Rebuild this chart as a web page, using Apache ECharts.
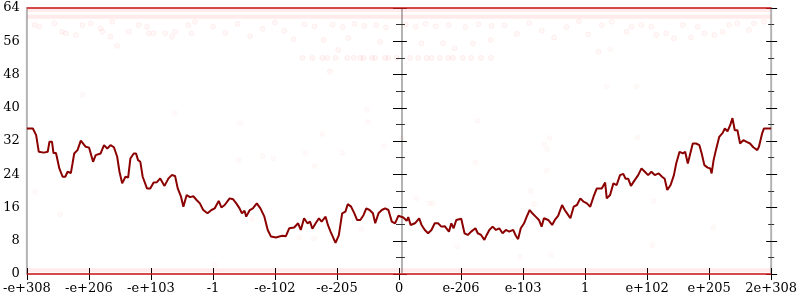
<!DOCTYPE html>
<html><head><meta charset="utf-8">
<script src="https://cdn.jsdelivr.net/npm/echarts@6/dist/echarts.min.js"></script>
<style>html,body{margin:0;padding:0;background:#fff}#c{width:800px;height:300px}</style>
</head><body><div id="c"></div>
<script>
// x axis: 13 evenly spaced tick positions, -6 .. 6
const xTickLabels = ['-e+308','-e+206','-e+103','-1','-e-102','-e-205','0','e-206','e-103','1','e+102','e+205','2e+308'];
const yMin = 0, yMax = 64, yStep = 8;

// main running line
const lineX = [-6.0,-5.904,-5.877,-5.851,-5.808,-5.776,-5.728,-5.664,-5.637,-5.595,-5.571,-5.531,-5.477,-5.424,-5.381,-5.344,-5.291,-5.264,-5.237,-5.184,-5.131,-5.104,-5.051,-4.997,-4.933,-4.891,-4.811,-4.757,-4.704,-4.651,-4.597,-4.544,-4.507,-4.464,-4.411,-4.368,-4.331,-4.277,-4.24,-4.208,-4.171,-4.133,-4.064,-4.011,-3.957,-3.904,-3.851,-3.781,-3.717,-3.664,-3.611,-3.568,-3.515,-3.477,-3.424,-3.371,-3.317,-3.264,-3.211,-3.157,-3.088,-3.024,-2.971,-2.907,-2.864,-2.811,-2.731,-2.677,-2.624,-2.571,-2.533,-2.491,-2.464,-2.411,-2.357,-2.293,-2.235,-2.171,-2.117,-2.064,-1.984,-1.931,-1.877,-1.824,-1.771,-1.691,-1.627,-1.584,-1.531,-1.477,-1.435,-1.397,-1.344,-1.291,-1.248,-1.184,-1.147,-1.104,-1.024,-0.971,-0.917,-0.864,-0.827,-0.773,-0.72,-0.677,-0.624,-0.571,-0.528,-0.475,-0.421,-0.384,-0.331,-0.277,-0.224,-0.171,-0.117,-0.064,-0.011,0.069,0.123,0.149,0.187,0.256,0.325,0.363,0.416,0.469,0.523,0.576,0.629,0.683,0.736,0.805,0.843,0.88,0.923,1.003,1.056,1.109,1.163,1.232,1.269,1.323,1.376,1.413,1.456,1.509,1.563,1.616,1.669,1.723,1.776,1.84,1.883,1.92,1.963,2.016,2.059,2.107,2.149,2.203,2.256,2.299,2.336,2.405,2.469,2.512,2.565,2.629,2.672,2.709,2.763,2.816,2.869,2.923,2.976,3.029,3.083,3.136,3.189,3.269,3.323,3.349,3.403,3.456,3.509,3.563,3.616,3.653,3.696,3.739,3.792,3.856,3.909,3.963,4.016,4.069,4.123,4.187,4.24,4.283,4.325,4.379,4.432,4.469,4.523,4.576,4.613,4.656,4.683,4.736,4.789,4.843,4.88,4.923,4.976,5.019,5.04,5.072,5.109,5.163,5.216,5.253,5.296,5.339,5.376,5.413,5.456,5.499,5.552,5.605,5.659,5.712,5.776,5.803,5.856,5.883,6.0];
const lineY = [35.0,35.0,34.6,33.4,29.4,29.8,29.2,29.4,31.8,31.8,29.1,29.1,25.4,23.4,23.4,24.6,24.3,26.6,29.0,29.8,32.1,32.2,30.6,30.4,27.0,28.6,29.0,31.0,30.2,31.0,30.5,28.2,24.6,21.8,23.4,23.2,27.8,29.0,29.0,27.4,27.0,23.4,20.6,20.6,22.0,22.1,23.0,21.2,23.0,23.8,23.6,20.6,18.6,16.2,19.0,18.5,18.7,17.8,17.0,15.4,14.6,15.4,15.8,17.6,16.0,16.6,18.2,18.0,17.0,15.8,14.6,15.2,13.8,15.3,15.8,17.0,15.8,13.8,10.6,9.0,8.8,9.0,9.2,9.1,11.0,11.2,12.2,10.6,13.4,12.2,12.6,10.9,12.2,13.4,12.6,13.8,11.8,10.2,7.5,9.3,14.6,15.0,16.8,16.2,14.6,13.0,13.0,14.2,15.8,15.4,14.6,12.2,14.6,15.4,15.8,15.4,12.6,12.2,14.0,13.6,12.8,13.7,11.8,12.2,13.4,11.8,10.6,9.8,10.6,12.2,12.2,11.4,11.5,10.2,12.2,11.0,13.0,13.3,9.8,9.4,10.2,11.0,9.8,9.4,8.2,9.4,10.6,11.4,10.6,11.0,9.8,10.6,10.2,10.6,9.2,8.4,11.0,12.2,13.8,15.4,14.6,13.8,13.0,11.4,13.4,13.0,11.8,13.0,14.0,16.6,15.4,14.6,13.4,16.2,16.6,18.2,17.4,17.0,16.2,18.6,20.6,20.6,22.0,18.2,19.0,21.8,21.4,23.8,24.1,22.9,22.9,21.2,22.4,23.8,25.4,24.6,23.8,24.6,23.8,24.2,23.4,22.9,20.2,21.4,23.8,26.6,29.4,29.0,29.4,26.6,28.2,31.4,31.4,31.0,29.0,26.2,25.6,25.4,24.2,27.4,29.8,33.0,33.9,35.0,34.3,35.8,37.5,34.6,34.6,31.4,32.2,31.8,31.4,30.5,29.8,30.6,33.9,35.0,35.0];

// dense bands of faint samples (drawn as continuous rows)
const solidRows = [0, 64];
const faintRows = [0.9, 63.5, 61.9];

// scattered faint samples [x, y]
const scatterPoints = [
 [-5.877,59.9],[-5.797,59.5],[-5.557,60.3],[-5.435,58.3],[-5.371,57.9],[-5.211,57.5],[-5.104,59.9],[-4.971,60.3],[-4.811,59.1],[-4.784,58.3],[-4.651,57.1],[-4.544,54.9],[-4.624,60.7],[-4.357,58.3],[-4.197,59.9],[-4.064,59.5],[-4.037,57.9],[-3.957,57.9],[-3.771,57.9],[-3.664,57.1],[-3.611,58.3],[-3.344,57.9],[-3.397,59.9],[-3.291,60.7],
 [-3.0,59.5],[-2.8,58.0],[-2.6,60.2],[-2.4,57.2],[-2.2,59.0],[-2.0,60.5],[-1.85,58.5],[-1.7,56.5],
 [-1.52,60.1],[-1.36,59.6],[-1.07,60.0],[-0.91,59.4],[-0.72,60.2],[-0.56,59.7],[-0.37,59.9],[-0.21,59.3],[0.11,60.0],[0.27,59.5],[0.43,60.2],[0.59,59.6],[0.80,59.9],[1.07,59.4],[1.28,60.1],[1.49,59.7],[-1.216,56.3],[-0.816,56.8],[-0.304,55.9],[0.363,55.5],[0.709,55.5],[1.189,55.5],[1.483,56.3],[-1.115,48.7],[-0.981,53.9],[0.896,54.3],
 [1.7,59.8],[1.9,57.8],[2.1,60.4],[2.3,58.6],[2.5,56.9],[2.7,59.4],[2.9,60.8],[3.05,57.6],
 [3.269,59.9],[3.429,60.7],[3.669,58.3],[3.749,59.5],[3.909,59.9],[4.069,59.5],[4.149,57.5],[4.309,57.9],[4.432,56.7],[4.576,59.9],[4.709,56.9],[4.816,59.5],[4.923,57.9],[5.083,57.5],[5.216,58.3],[5.323,59.9],[5.456,60.3],[5.643,58.7],[5.723,60.3],[5.883,60.7],[3.216,53.5]
];
const sparsePoints = [
 [-5.104,43.1],[-3.616,38.8],[-5.872,19.8],[-5.461,14.4],[-2.56,36.3],[-2.581,27.4],[-2.197,28.4],[-2.027,27.8],[-1.237,33.7],[-1.515,29.2],[-1.36,26.0],[-0.917,29.2],[-0.517,39.5],[-0.501,36.5],[-0.24,30.8],[0.043,32.7],[-2.373,13.2],[-1.611,8.7],[-1.371,8.6],[-0.613,10.8],[1.269,36.9],[1.232,26.8],[2.336,31.2],[2.389,30.1],[2.427,32.7],[2.379,24.9],[2.123,20.0],[2.176,16.8],[0.283,18.2],[0.496,17.0],[0.549,17.0],[0.933,6.7],[1.952,4.2],[2.453,4.6],[3.845,32.8],[4.107,17.6],[5.067,11.2],[4.085,7.0],[5.072,31.0],[3.349,45.1],[3.829,45.1],[3.403,54.1],[-2.971,2.2]
];
// row of samples at 52
const row52X = [-1.557,-1.397,-1.237,-1.157,-1.024,-0.837,-0.731,-0.624,-0.571,-0.437,-0.384,-0.224,-0.171,-0.037,0.176,0.309,0.443,0.523,0.656,0.789,0.869,1.029,1.163,1.323,1.483];
const row52Y = 52;

const FONT = 'DejaVu Serif';
const chart = echarts.init(document.getElementById('c'), null, {renderer:'canvas'});

function vAxis(position, offset, inside, showLabel) {
  return {
    type:'value', min:yMin, max:yMax, interval:yStep, position, offset,
    axisLine:{show: position==='left' && offset!==0, lineStyle:{color:'#b4b4b4', width:2}},
    axisTick:{show:true, inside, length: inside?5:6, lineStyle:{color:'#000', width:1}},
    minorTick:{show:true, splitNumber:2, length:3, lineStyle:{color:'#333', width:1}},
    axisLabel:{show:showLabel, margin:7, fontFamily:FONT, fontSize:13, color:'#000'},
    splitLine:{show:false}, minorSplitLine:{show:false}
  };
}
function hAxis(inside, showLabel) {
  return {
    type:'value', min:-6, max:6, interval:1, position:'bottom',
    axisLine:{show:false},
    axisTick:{show:true, inside, length:6, lineStyle:{color:'#000', width:1}},
    axisLabel:{show:showLabel, margin:8, fontFamily:FONT, fontSize:13, color:'#000',
      formatter: v => xTickLabels[Math.round(v) + 6] || ''},
    splitLine:{show:false}
  };
}

const series = [];
faintRows.forEach(v => series.push({
  type:'line', data:[[-6,v],[6,v]], showSymbol:false, silent:true, clip:false, z:1,
  lineStyle:{color:'rgba(255,0,0,0.08)', width:4}
}));
series.push({
  type:'scatter', data:scatterPoints, symbolSize:5, silent:true, z:2,
  itemStyle:{color:'rgba(255,0,0,0.035)', borderColor:'rgba(255,0,0,0.07)', borderWidth:1}
});
series.push({
  type:'scatter', data:sparsePoints, symbolSize:5, silent:true, z:2,
  itemStyle:{color:'rgba(255,0,0,0.025)', borderColor:'rgba(255,0,0,0.04)', borderWidth:1}
});
series.push({
  type:'scatter', data:row52X.map(x => [x, row52Y]), symbolSize:5, silent:true, z:2,
  itemStyle:{color:'rgba(255,0,0,0.04)', borderColor:'rgba(255,0,0,0.08)', borderWidth:1}
});
solidRows.forEach(v => series.push({
  type:'line', data:[[-6,v],[6,v]], showSymbol:false, silent:true, clip:false, z:3,
  lineStyle:{color:'rgba(225,30,30,0.7)', width:2}
}));
const n = Math.min(lineX.length, lineY.length);
series.push({
  type:'line', data:lineX.slice(0,n).map((x,i) => [x, lineY[i]]), showSymbol:false, silent:true, z:10,
  lineStyle:{color:'#8b0000', width:2}
});

chart.setOption({
  animation:false,
  backgroundColor:'#fff',
  grid:{left:24, right:26, top:8, bottom:26, show:true, borderColor:'#b4b4b4', borderWidth:2, backgroundColor:'transparent'},
  xAxis:[hAxis(false, true), hAxis(true, false)],
  yAxis:[
    vAxis('left', 0, false, true), vAxis('left', 0, true, false),
    vAxis('left', -375, false, false), vAxis('left', -375, true, false),
    vAxis('right', 0, false, false), vAxis('right', 0, true, false)
  ],
  series
});
</script></body></html>
